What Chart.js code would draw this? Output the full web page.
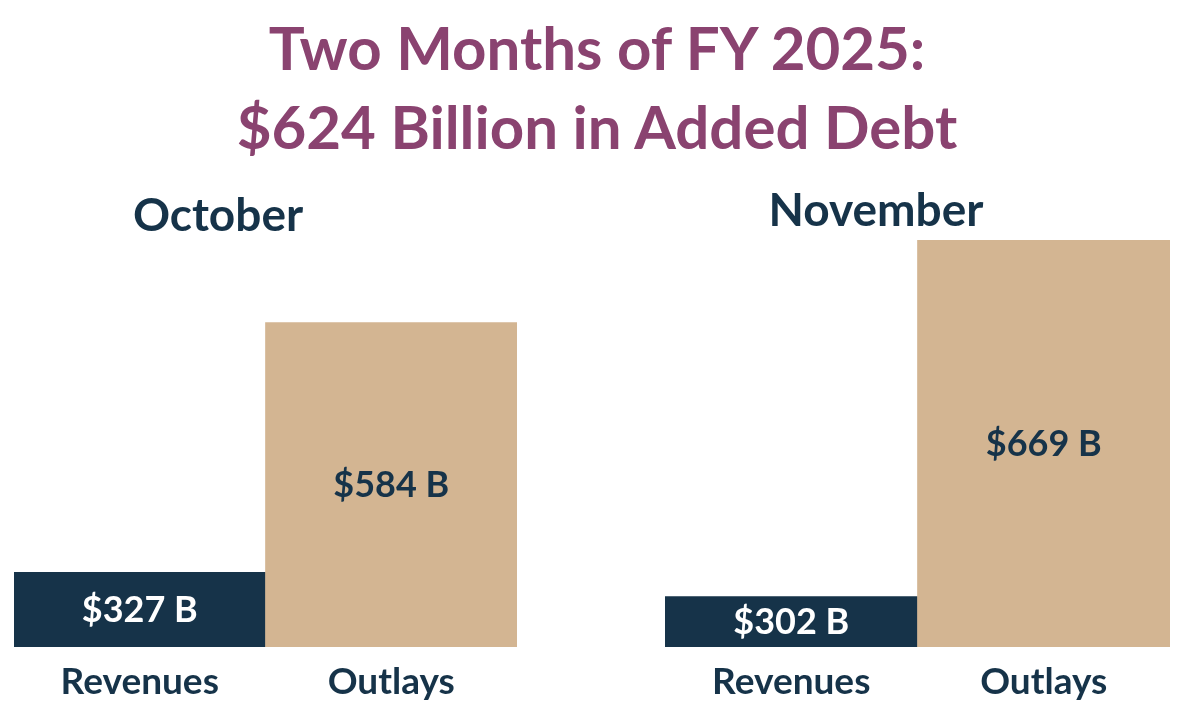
<!DOCTYPE html>
<html>
<head>
<meta charset="utf-8">
<script src="https://cdn.jsdelivr.net/npm/chart.js@4"></script>
<style>
  html, body { margin: 0; padding: 0; background: #ffffff; }
  body { width: 1194px; height: 718px; position: relative; overflow: hidden; font-family: Lato, "Open Sans", sans-serif; }
  #title { position: absolute; left: 0; top: 8px; width: 1194px; text-align: center; color: #8A4370; font-weight: 700; font-size: 60px; line-height: 79px; z-index: 2; }
  .month { position: absolute; color: #163349; font-weight: 700; font-size: 46px; line-height: 46px; text-align: center; width: 300px; z-index: 2; }
  .wrap { position: absolute; top: 0; height: 718px; }
  #w1 { left: 0; width: 597px; }
  #w2 { left: 597px; width: 597px; }
</style>
</head>
<body>
<div id="title">Two Months of FY 2025:<br>$624 Billion in Added Debt</div>
<div class="month" id="m1" style="left:68px; top:191px;"></div>
<div class="month" id="m2" style="left:726px; top:186px;"></div>
<div class="wrap" id="w1"><canvas id="c1"></canvas></div>
<div class="wrap" id="w2"><canvas id="c2"></canvas></div>
<script>
const months = ['October', 'November'];
const categories = ['Revenues', 'Outlays'];
const revenues = [327, 302];
const outlays = [584, 669];
const valueLabels = [['$327 B', '$584 B'], ['$302 B', '$669 B']];

const NAVY = '#163349';
const TAN = '#D3B592';
const FONT = 'Lato, "Open Sans", sans-serif';

document.getElementById('m1').textContent = months[0];
document.getElementById('m2').textContent = months[1];

const valuePlugin = {
  id: 'valueLabels',
  afterDatasetsDraw(chart, args, opts) {
    const ctx = chart.ctx;
    const meta = chart.getDatasetMeta(0);
    const bottom = chart.chartArea.bottom;
    ctx.save();
    ctx.font = 'bold 36px ' + FONT;
    ctx.textAlign = 'center';
    ctx.textBaseline = 'middle';
    meta.data.forEach((bar, i) => {
      const p = bar.getProps(['x', 'y', 'base'], true);
      const base = Math.min(p.base, bottom);
      ctx.fillStyle = i === 0 ? '#FFFFFF' : NAVY;
      ctx.fillText(opts.labels[i], p.x, (p.y + base) / 2 + 1);
    });
    ctx.restore();
  }
};

function makeChart(id, idx, pad) {
  return new Chart(document.getElementById(id), {
    type: 'bar',
    data: {
      labels: categories,
      datasets: [{
        data: [revenues[idx], outlays[idx]],
        backgroundColor: [NAVY, TAN],
        borderWidth: 0,
        barPercentage: 1,
        categoryPercentage: 1
      }]
    },
    options: {
      responsive: true,
      maintainAspectRatio: false,
      animation: false,
      devicePixelRatio: 1,
      layout: { padding: pad },
      plugins: {
        legend: { display: false },
        tooltip: { enabled: false },
        title: { display: false },
        valueLabels: { labels: valueLabels[idx] }
      },
      scales: {
        y: { display: false, min: 250, max: 669 },
        x: {
          grid: { display: false, drawTicks: false },
          border: { display: false },
          ticks: { color: NAVY, font: { family: FONT, size: 37, weight: 'bold' }, padding: 13 },
          afterFit(scale) { scale.height = 71; }
        }
      }
    },
    plugins: [valuePlugin]
  });
}

makeChart('c1', 0, { left: 14, right: 80, top: 240, bottom: 0 });
makeChart('c2', 1, { left: 68, right: 24, top: 240, bottom: 0 });
</script>
</body>
</html>
